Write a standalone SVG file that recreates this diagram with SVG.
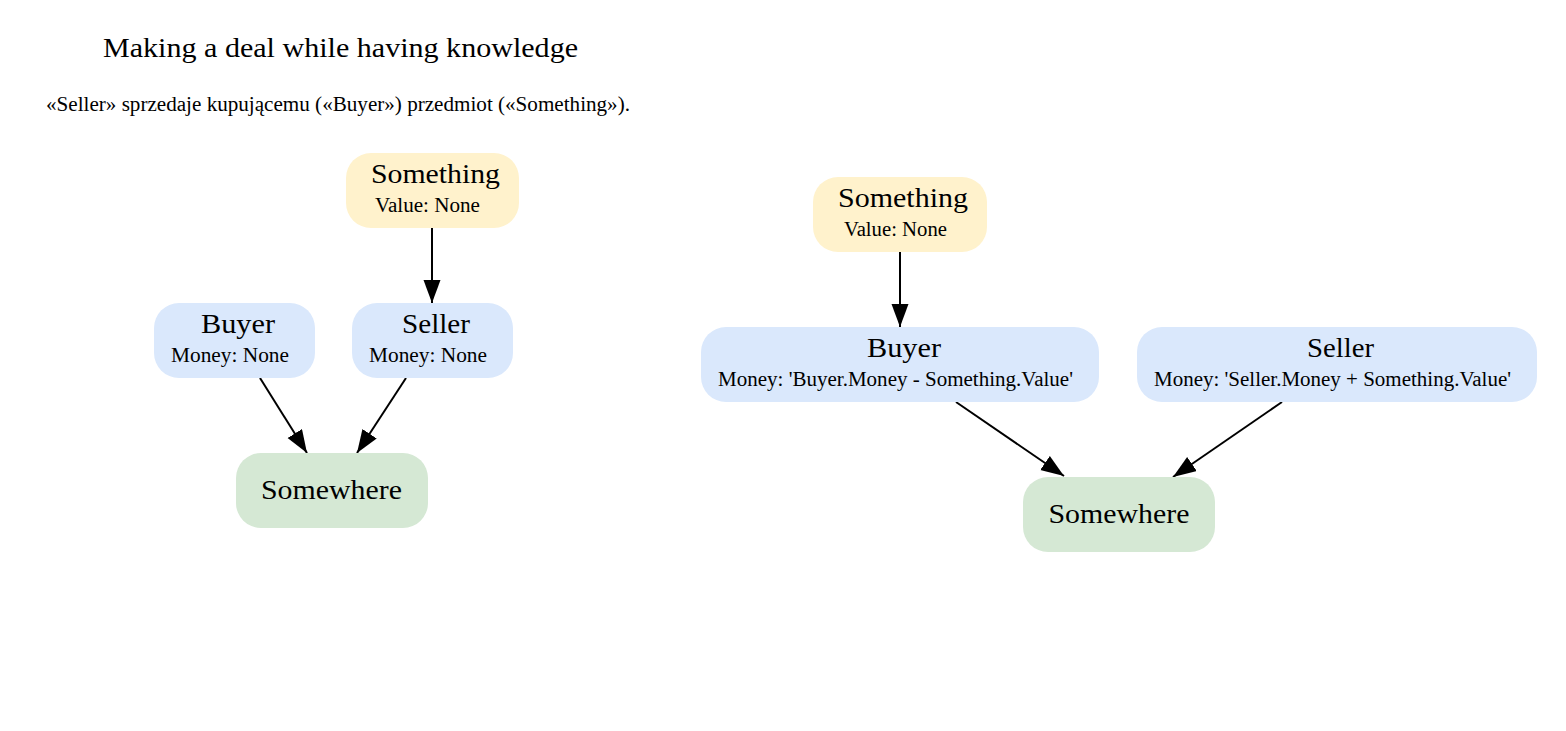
<svg xmlns="http://www.w3.org/2000/svg" width="1566" height="731" viewBox="0 0 1566 731">
<style>
text{font-family:"Liberation Serif","Times New Roman",serif;fill:#000}
.title{font-size:28px;text-anchor:middle}
.sub{font-size:20px;text-anchor:middle}
.nt{font-size:28px;text-anchor:middle}
.na{font-size:20px}
.yellow{fill:#fff2cc}
.blue{fill:#dae8fc}
.green{fill:#d5e8d4}
.edge{stroke:#000;stroke-width:2;fill:none;marker-end:url(#ah)}
</style>
<defs>
<marker id="ah" markerUnits="userSpaceOnUse" markerWidth="24" markerHeight="18" refX="23" refY="8.5" orient="auto">
<path d="M0,0 L23,8.5 L0,17 Z" fill="#000"/>
</marker>
</defs>
<rect width="1566" height="731" fill="#fff"/>
<g id="header">
<text class="title" x="340.5" y="57" textLength="475" lengthAdjust="spacingAndGlyphs">Making a deal while having knowledge</text>
<text class="sub" x="338" y="111" textLength="584" lengthAdjust="spacingAndGlyphs">«Seller» sprzedaje kupującemu («Buyer») przedmiot («Something»).</text>
</g>
<g id="edges">
<path class="edge" d="M432,228 L432,303"/>
<path class="edge" d="M260,378 L307,453"/>
<path class="edge" d="M406,378 L357,453"/>
<path class="edge" d="M900,252 L900,327"/>
<path class="edge" d="M956,402 L1064,476"/>
<path class="edge" d="M1282,402 L1173,477"/>
</g>
<g id="l_something">
<rect class="yellow" x="346" y="153" width="173" height="75" rx="25"/>
<text class="nt" x="435.5" y="183" textLength="129" lengthAdjust="spacingAndGlyphs">Something</text>
<text class="na" x="375" y="212" textLength="105" lengthAdjust="spacingAndGlyphs">Value: None</text>
</g>
<g id="l_buyer">
<rect class="blue" x="154" y="303" width="161" height="75" rx="25"/>
<text class="nt" x="238" y="333" textLength="74" lengthAdjust="spacingAndGlyphs">Buyer</text>
<text class="na" x="171" y="362" textLength="118" lengthAdjust="spacingAndGlyphs">Money: None</text>
</g>
<g id="l_seller">
<rect class="blue" x="352" y="303" width="161" height="75" rx="25"/>
<text class="nt" x="436" y="333" textLength="68" lengthAdjust="spacingAndGlyphs">Seller</text>
<text class="na" x="369" y="362" textLength="118" lengthAdjust="spacingAndGlyphs">Money: None</text>
</g>
<g id="l_somewhere">
<rect class="green" x="236" y="453" width="192" height="75" rx="25"/>
<text class="nt" x="331.5" y="499" textLength="141" lengthAdjust="spacingAndGlyphs">Somewhere</text>
</g>
<g id="r_something">
<rect class="yellow" x="813" y="177" width="174" height="75" rx="25"/>
<text class="nt" x="903" y="207" textLength="130" lengthAdjust="spacingAndGlyphs">Something</text>
<text class="na" x="844" y="236" textLength="103" lengthAdjust="spacingAndGlyphs">Value: None</text>
</g>
<g id="r_buyer">
<rect class="blue" x="701" y="327" width="398" height="75" rx="25"/>
<text class="nt" x="904" y="357" textLength="74" lengthAdjust="spacingAndGlyphs">Buyer</text>
<text class="na" x="718" y="386" textLength="355" lengthAdjust="spacingAndGlyphs">Money: 'Buyer.Money - Something.Value'</text>
</g>
<g id="r_seller">
<rect class="blue" x="1137" y="327" width="400" height="75" rx="25"/>
<text class="nt" x="1340.5" y="357" textLength="67" lengthAdjust="spacingAndGlyphs">Seller</text>
<text class="na" x="1154" y="386" textLength="357" lengthAdjust="spacingAndGlyphs">Money: 'Seller.Money + Something.Value'</text>
</g>
<g id="r_somewhere">
<rect class="green" x="1023" y="477" width="192" height="75" rx="25"/>
<text class="nt" x="1119" y="523" textLength="141" lengthAdjust="spacingAndGlyphs">Somewhere</text>
</g>
</svg>
